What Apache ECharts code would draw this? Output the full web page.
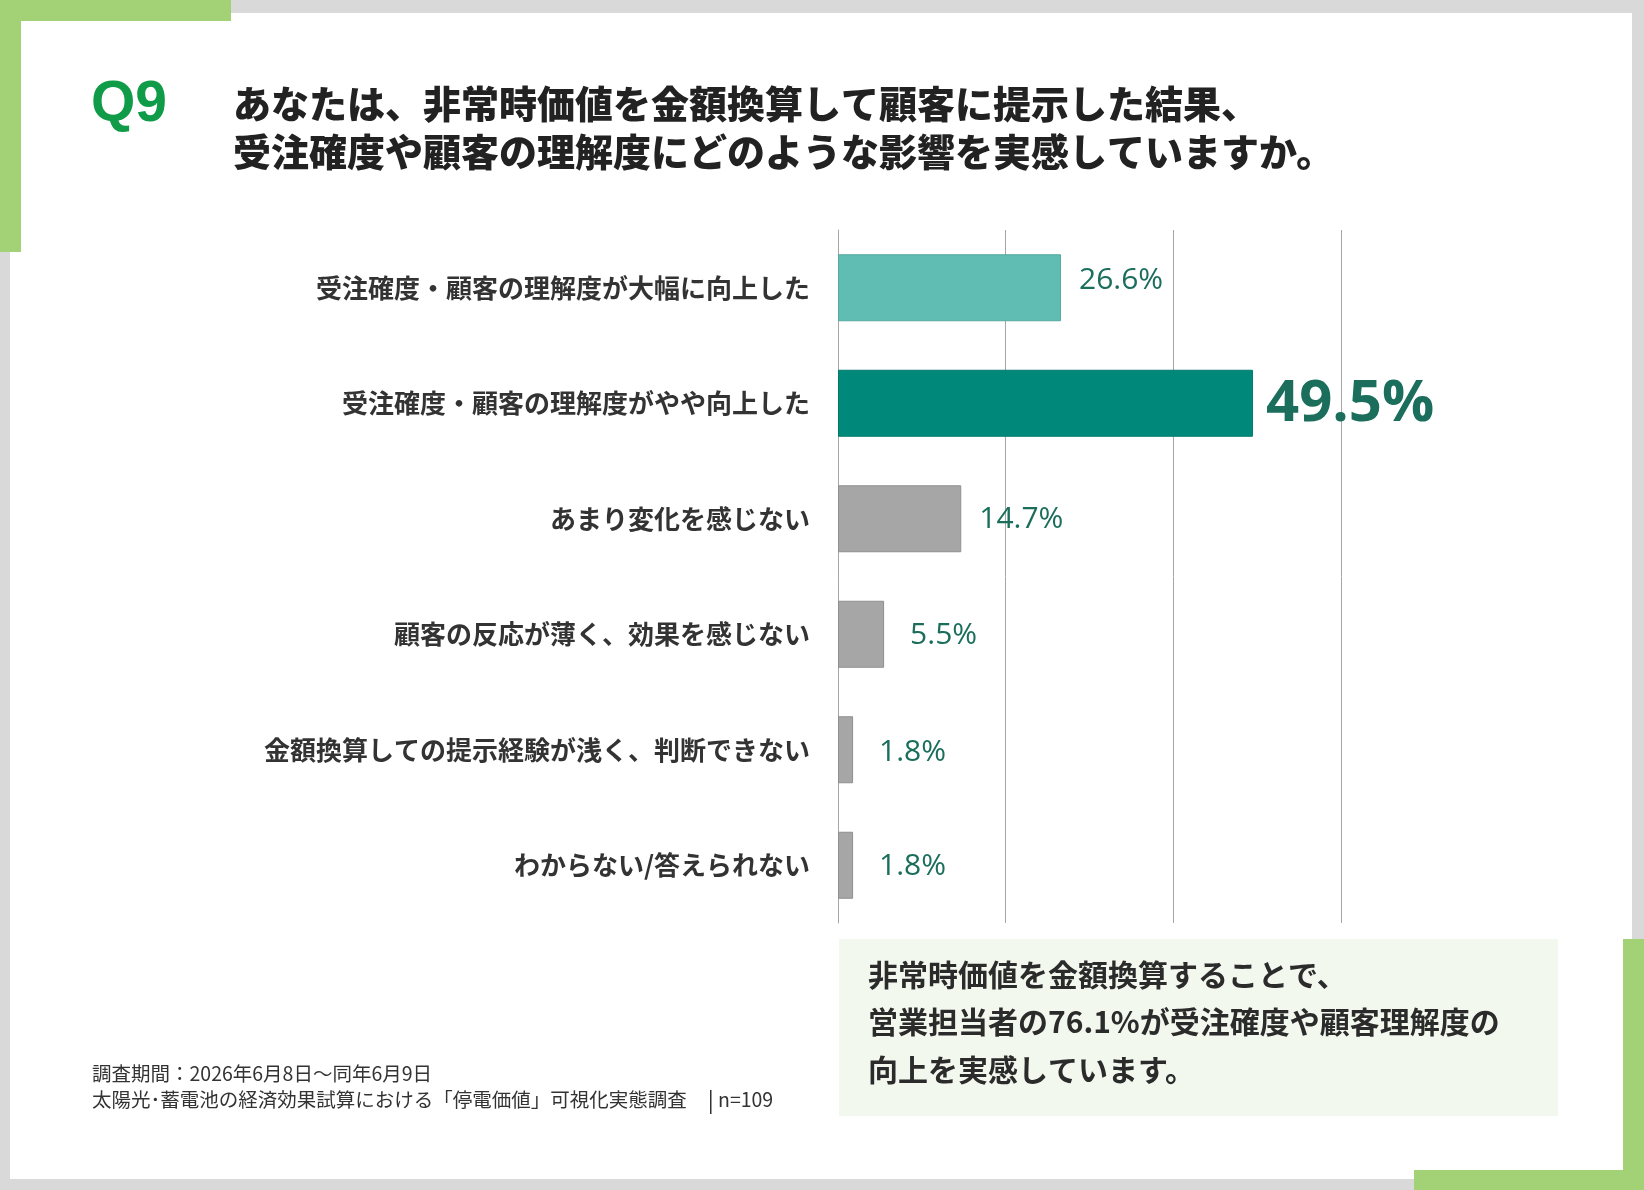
<!DOCTYPE html>
<html lang="ja">
<head>
<meta charset="utf-8">
<title>Q9</title>
<script src="https://cdn.jsdelivr.net/npm/echarts@6/dist/echarts.min.js"></script>
<style>
  html, body { margin: 0; padding: 0; background: #d9d9d9; }
  #chart { width: 1644px; height: 1190px; }
</style>
</head>
<body>
<div id="chart"></div>
<script>
// data
const categories = [
  '受注確度・顧客の理解度が大幅に向上した',
  '受注確度・顧客の理解度がやや向上した',
  'あまり変化を感じない',
  '顧客の反応が薄く、効果を感じない',
  '金額換算しての提示経験が浅く、判断できない',
  'わからない/答えられない'
];
const values = [26.6, 49.5, 14.7, 5.5, 1.8, 1.8];
const xTicks = [0, 20, 40, 60];

const titleLines = [
  'あなたは、非常時価値を金額換算して顧客に提示した結果、',
  '受注確度や顧客の理解度にどのような影響を実感していますか。'
];
const noteLines = [
  '非常時価値を金額換算することで、',
  '営業担当者の76.1%が受注確度や顧客理解度の',
  '向上を実感しています。'
];
const footLines = [
  '調査期間：2026年6月8日～同年6月9日',
  '太陽光･蓄電池の経済効果試算における「停電価値」可視化実態調査'
];
const sampleText = 'n=109';

const JP = '"Noto Sans CJK JP", "Noto Sans", sans-serif';
const GREEN = '#a3d175';
const barColors = ['#5fbdb3', '#00897a', '#a6a6a6', '#a6a6a6', '#a6a6a6', '#a6a6a6'];
const barBorders = ['#55aaa1', '#007a6c', '#8f8f8f', '#8f8f8f', '#8f8f8f', '#8f8f8f'];

const chart = echarts.init(document.getElementById('chart'));

const barData = values.map((v, i) => {
  const big = i === 1;
  return {
    value: v,
    itemStyle: { color: barColors[i], borderColor: barBorders[i], borderWidth: 1 },
    label: {
      distance: big ? 13 : (i >= 3 ? 26 : 18),
      offset: i === 0 ? [0, -7] : (i === 4 ? [0, 3] : [0, 1]),
      fontSize: big ? 58 : 30,
      fontWeight: big ? 'bold' : 'normal'
    }
  };
});

const graphics = [
  // card
  { type: 'rect', shape: { x: 0, y: 0, width: 1644, height: 1190 }, style: { fill: '#d9d9d9' }, z: -10 },
  { type: 'rect', shape: { x: 10, y: 13, width: 1622, height: 1166 }, style: { fill: '#ffffff' }, z: -9 },
  { type: 'rect', shape: { x: 0, y: 0, width: 231, height: 21 }, style: { fill: GREEN }, z: -8 },
  { type: 'rect', shape: { x: 0, y: 0, width: 21, height: 252 }, style: { fill: GREEN }, z: -8 },
  { type: 'rect', shape: { x: 1623, y: 939, width: 21, height: 251 }, style: { fill: GREEN }, z: -8 },
  { type: 'rect', shape: { x: 1414, y: 1170, width: 230, height: 20 }, style: { fill: GREEN }, z: -8 },
  // heading
  {
    type: 'text', left: 91, top: 77,
    style: { text: 'Q9', fill: '#0f9b48', font: 'bold 57px "Liberation Sans", Arial, sans-serif' }
  },
  // note box
  { type: 'rect', shape: { x: 839, y: 939, width: 719, height: 177 }, style: { fill: '#f3f8ee' }, z: -5 },
  // footer separator
  { type: 'rect', shape: { x: 710, y: 1090, width: 1.5, height: 24 }, style: { fill: '#333333' } },
  {
    type: 'text', left: 718, top: 1102 - 12,
    style: { text: sampleText, fill: '#333333', font: '19.5px ' + JP }
  }
];

titleLines.forEach((t, i) => {
  graphics.push({
    type: 'text', left: 233, top: [108, 156][i] - 23,
    style: { text: t, fill: '#222222', font: '900 38px ' + JP }
  });
});
noteLines.forEach((t, i) => {
  graphics.push({
    type: 'text', left: 868, top: [978, 1025, 1073][i] - 18,
    style: { text: t, fill: '#2b2b2b', font: 'bold 30px ' + JP }
  });
});
footLines.forEach((t, i) => {
  graphics.push({
    type: 'text', left: 92, top: [1076, 1102][i] - 12,
    style: { text: t, fill: '#333333', font: '19.5px ' + JP }
  });
});

chart.setOption({
  animation: false,
  backgroundColor: 'transparent',
  graphic: graphics,
  grid: { left: 838, right: 303, top: 230, bottom: 267, containLabel: false },
  xAxis: {
    type: 'value',
    min: xTicks[0],
    max: xTicks[xTicks.length - 1],
    interval: xTicks[1] - xTicks[0],
    axisLabel: { show: false },
    axisLine: { show: false },
    axisTick: { show: false },
    splitLine: { show: true, lineStyle: { color: '#a6a6a6', width: 1 } }
  },
  yAxis: {
    type: 'category',
    data: categories,
    inverse: true,
    axisLine: { show: true, lineStyle: { color: '#a6a6a6', width: 1 } },
    axisTick: { show: false },
    axisLabel: {
      margin: 28,
      fontSize: 26,
      fontWeight: 'bold',
      color: '#333333',
      fontFamily: JP
    }
  },
  series: [{
    type: 'bar',
    data: barData,
    barWidth: 67,
    label: {
      show: true,
      position: 'right',
      color: '#1b6e5c',
      fontFamily: '"Open Sans", "Noto Sans", sans-serif',
      formatter: (p) => p.value.toFixed(1) + '%'
    }
  }]
});
</script>
</body>
</html>
